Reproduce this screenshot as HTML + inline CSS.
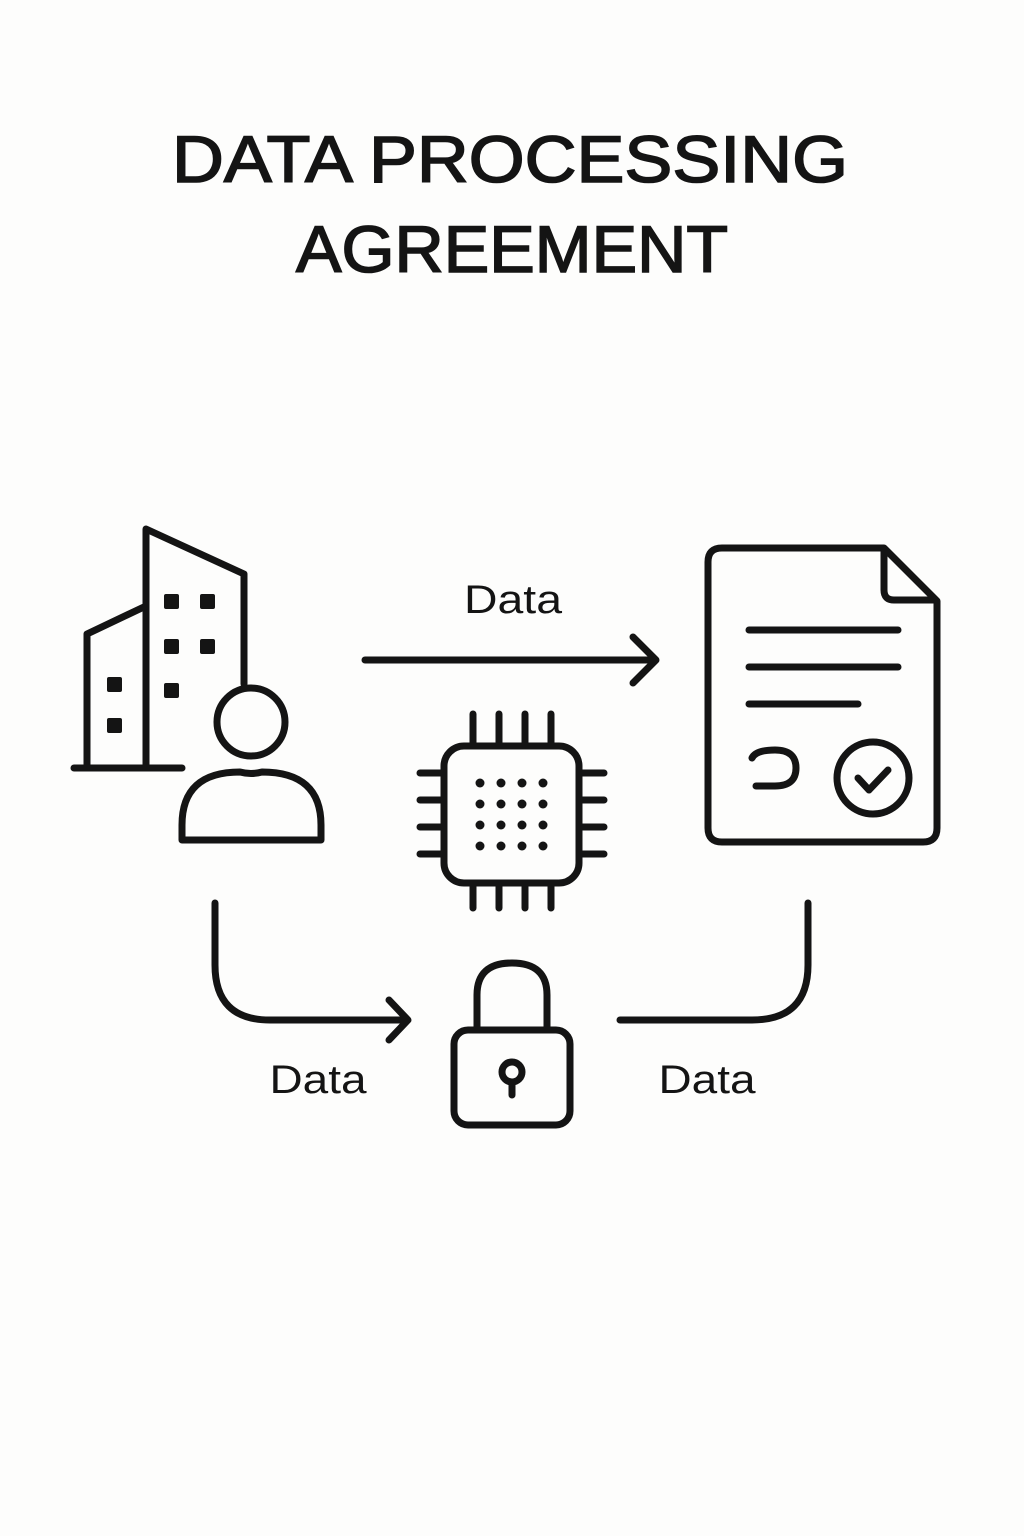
<!DOCTYPE html>
<html><head><meta charset="utf-8"><style>html,body{margin:0;padding:0;background:#fdfdfc}svg{display:block}</style></head>
<body>
<svg width="1024" height="1536" viewBox="0 0 1024 1536" xmlns="http://www.w3.org/2000/svg">
<rect width="1024" height="1536" fill="#fdfdfc"/>
<g font-family="Liberation Sans, sans-serif" fill="#141414" text-anchor="middle">
<text x="510" y="182" font-size="66" stroke="#141414" stroke-width="1.6" textLength="676" lengthAdjust="spacingAndGlyphs">DATA PROCESSING</text>
<text x="512" y="272" font-size="66" stroke="#141414" stroke-width="1.6" textLength="432" lengthAdjust="spacingAndGlyphs">AGREEMENT</text>
<text x="513" y="613" font-size="40" textLength="98" lengthAdjust="spacingAndGlyphs">Data</text>
<text x="318" y="1093" font-size="40" textLength="97" lengthAdjust="spacingAndGlyphs">Data</text>
<text x="707" y="1093" font-size="40" textLength="97" lengthAdjust="spacingAndGlyphs">Data</text>
</g>
<g fill="none" stroke="#141414" stroke-width="7" stroke-linecap="round" stroke-linejoin="round">
<path d="M146 766 V529 L244 574 V684"/>
<path d="M146 606 L87 634 V766"/>
<path d="M74 768 H182"/>
<circle cx="251" cy="722" r="34"/>
<path d="M182 840 V825 Q182 772 240 772 Q251 775 262 772 Q321 772 321 825 V840 Z"/>
<path d="M365 660 H655 M633 637 L656 660 L633 683"/>
<path d="M215 903 V965 Q215 1020 270 1020 H406 M389 1000 L408 1020 L389 1040"/>
<path d="M620 1020 H752 Q808 1020 808 965 V903"/>
<rect x="444" y="746" width="135" height="137" rx="20"/>
<path d="M473 714 V744 M499 714 V744 M525 714 V744 M551 714 V744 M473 886 V908 M499 886 V908 M525 886 V908 M551 886 V908 M420 773 H442 M420 800 H442 M420 827 H442 M420 854 H442 M582 773 H604 M582 800 H604 M582 827 H604 M582 854 H604"/>
<rect x="454" y="1030" width="116" height="95" rx="14"/>
<path d="M477 1028 V995 Q477 963 512 963 Q547 963 547 995 V1028"/>
<circle cx="512" cy="1072" r="10"/>
<path d="M512 1082 V1095"/>
<path d="M884 548 H722 Q708 548 708 562 V828 Q708 842 722 842 H923 Q937 842 937 828 V601 Z"/>
<path d="M884 550 V590 Q884 600 894 600 H935"/>
<path d="M749 630 H898 M749 667 H898 M749 704 H858"/>
<path d="M752 758 Q756 750 775 750 Q796 750 796 768 Q796 786 775 786 H756"/>
<circle cx="873" cy="778" r="36"/>
<path d="M858 778 L869 790 L888 770"/>
</g>
<g fill="#141414">
<rect x="164" y="594" width="15" height="15" rx="2"/><rect x="200" y="594" width="15" height="15" rx="2"/>
<rect x="164" y="639" width="15" height="15" rx="2"/><rect x="200" y="639" width="15" height="15" rx="2"/>
<rect x="164" y="683" width="15" height="15" rx="2"/>
<rect x="107" y="677" width="15" height="15" rx="2"/><rect x="107" y="718" width="15" height="15" rx="2"/>
<circle cx="480" cy="783" r="4.5"/><circle cx="501" cy="783" r="4.5"/><circle cx="522" cy="783" r="4.5"/><circle cx="543" cy="783" r="4.5"/>
<circle cx="480" cy="804" r="4.5"/><circle cx="501" cy="804" r="4.5"/><circle cx="522" cy="804" r="4.5"/><circle cx="543" cy="804" r="4.5"/>
<circle cx="480" cy="825" r="4.5"/><circle cx="501" cy="825" r="4.5"/><circle cx="522" cy="825" r="4.5"/><circle cx="543" cy="825" r="4.5"/>
<circle cx="480" cy="846" r="4.5"/><circle cx="501" cy="846" r="4.5"/><circle cx="522" cy="846" r="4.5"/><circle cx="543" cy="846" r="4.5"/>
</g>
</svg>
</body></html>
